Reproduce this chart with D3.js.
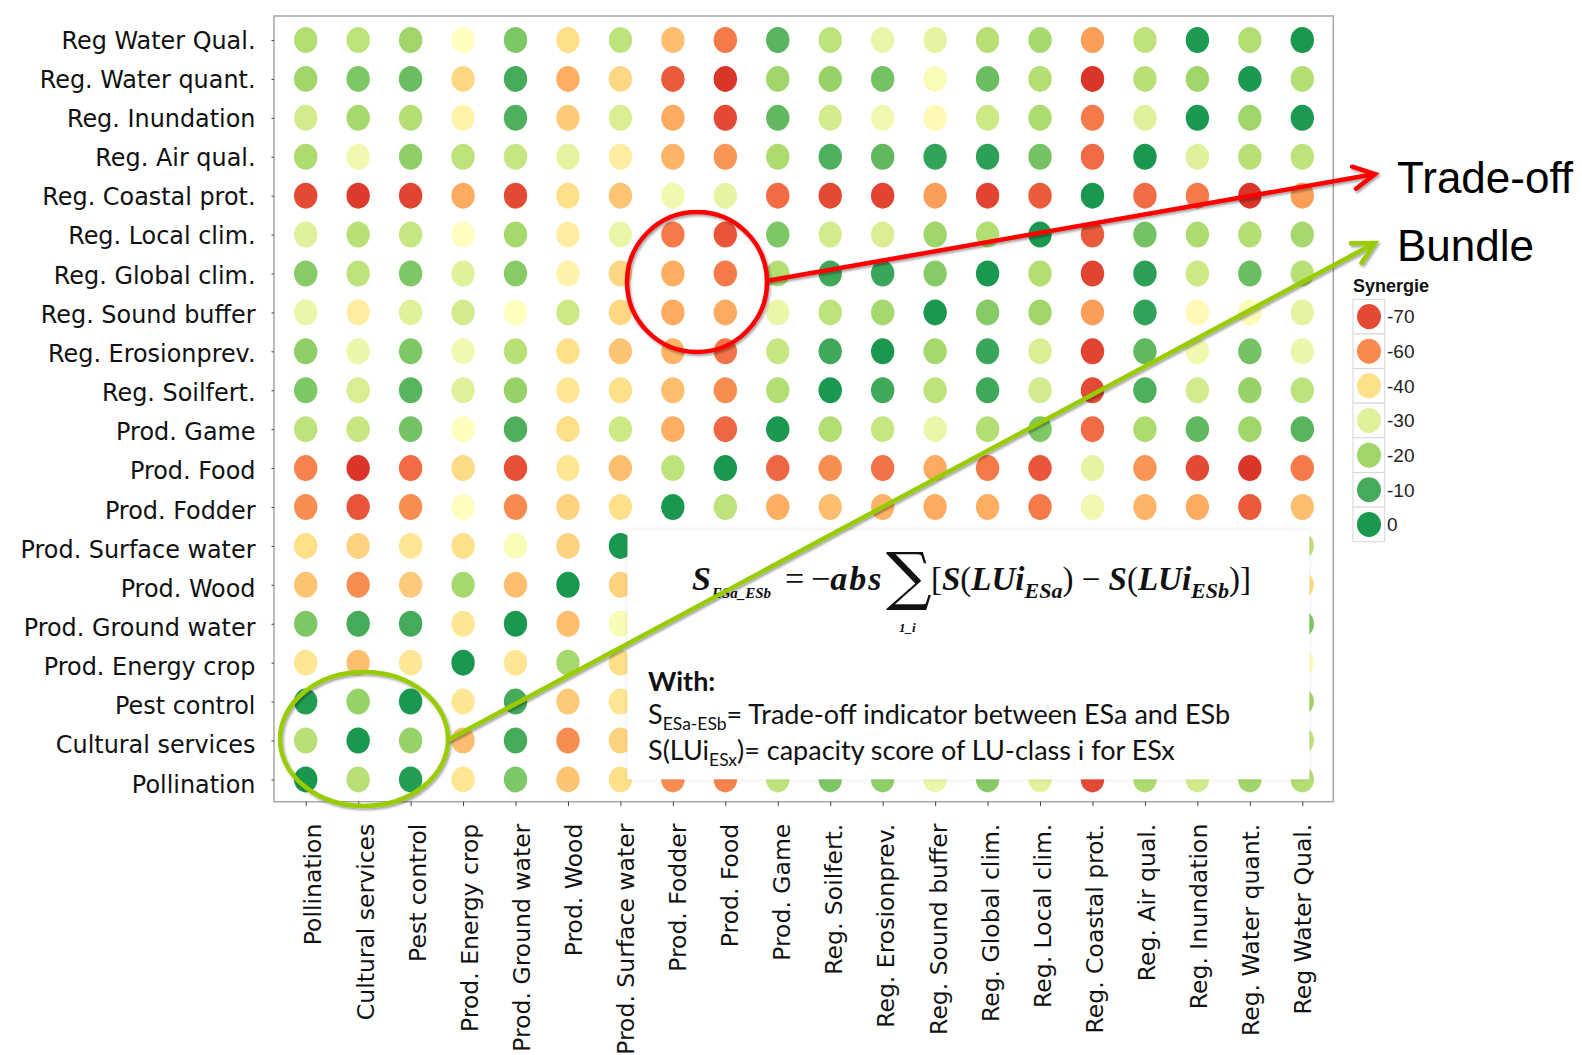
<!DOCTYPE html>
<html><head><meta charset="utf-8">
<script src="https://cdn.jsdelivr.net/npm/d3@7"></script>
<style>
html,body{margin:0;padding:0;background:#fff;}
svg{display:block;}
</style></head><body>
<svg id="chart" width="1582" height="1055"></svg>
<script>
// ---------------- data ----------------
const rowLabels = ["Reg Water Qual.","Reg. Water quant.","Reg. Inundation","Reg. Air qual.","Reg. Coastal prot.",
  "Reg. Local clim.","Reg. Global clim.","Reg. Sound buffer","Reg. Erosionprev.","Reg. Soilfert.",
  "Prod. Game","Prod. Food","Prod. Fodder","Prod. Surface water","Prod. Wood","Prod. Ground water",
  "Prod. Energy crop","Pest control","Cultural services","Pollination"];
const colLabels = ["Pollination","Cultural services","Pest control","Prod. Energy crop","Prod. Ground water",
  "Prod. Wood","Prod. Surface water","Prod. Fodder","Prod. Food","Prod. Game","Reg. Soilfert.",
  "Reg. Erosionprev.","Reg. Sound buffer","Reg. Global clim.","Reg. Local clim.","Reg. Coastal prot.",
  "Reg. Air qual.","Reg. Inundation","Reg. Water quant.","Reg Water Qual."];
// synergy values, one array per row (same order as rowLabels), columns in colLabels order
const values = [
  [-23,-25,-20,-35,-16,-40,-25,-47,-62,-12,-25,-32,-31,-24,-21,-55,-25,-1,-23,0],
  [-20,-16,-14,-42,-10,-50,-42,-67,-74,-20,-19,-15,-34,-14,-23,-74,-24,-20,0,-23],
  [-28,-21,-23,-37,-11,-45,-29,-51,-70,-13,-28,-33,-36,-27,-22,-62,-30,0,-20,-1],
  [-22,-33,-18,-25,-26,-31,-38,-49,-57,-22,-11,-13,-7,-6,-15,-64,0,-30,-24,-25],
  [-70,-73,-71,-51,-70,-40,-46,-33,-31,-64,-70,-71,-55,-71,-67,0,-64,-62,-74,-55],
  [-30,-24,-26,-35,-21,-38,-32,-62,-68,-16,-28,-29,-20,-23,0,-67,-15,-22,-23,-21],
  [-17,-25,-16,-30,-17,-37,-42,-50,-62,-23,-9,-8,-17,0,-23,-71,-6,-27,-14,-24],
  [-32,-38,-30,-28,-35,-27,-42,-51,-51,-32,-25,-21,0,-17,-20,-55,-7,-36,-34,-31],
  [-18,-32,-16,-33,-24,-40,-46,-49,-63,-26,-9,0,-21,-8,-29,-71,-13,-33,-15,-32],
  [-16,-29,-12,-30,-19,-39,-40,-47,-59,-23,0,-9,-25,-9,-28,-70,-11,-28,-19,-25],
  [-25,-26,-15,-35,-11,-40,-27,-50,-65,0,-23,-26,-32,-23,-16,-64,-22,-13,-20,-12],
  [-61,-74,-64,-41,-69,-39,-47,-25,0,-65,-59,-63,-51,-62,-68,-31,-57,-70,-74,-62],
  [-59,-68,-59,-35,-60,-43,-40,0,-25,-50,-47,-49,-51,-50,-62,-33,-49,-51,-67,-47],
  [-40,-43,-39,-40,-34,-43,0,-40,-47,-27,-40,-46,-42,-42,-32,-46,-38,-29,-42,-25],
  [-46,-59,-45,-21,-47,0,-43,-43,-39,-40,-39,-40,-27,-37,-38,-40,-31,-45,-50,-40],
  [-16,-10,-10,-39,0,-47,-34,-60,-69,-11,-19,-24,-35,-17,-21,-70,-26,-11,-10,-16],
  [-39,-47,-39,0,-39,-21,-40,-35,-41,-35,-30,-33,-28,-30,-35,-51,-25,-37,-42,-35],
  [-3,-19,0,-39,-10,-45,-39,-59,-64,-15,-12,-16,-30,-16,-26,-71,-18,-23,-14,-20],
  [-24,0,-19,-47,-10,-59,-43,-68,-74,-26,-29,-32,-38,-25,-24,-73,-33,-21,-16,-25],
  [0,-24,-3,-39,-16,-46,-40,-59,-61,-25,-16,-18,-32,-17,-30,-70,-22,-28,-20,-23]
];
const legendValues = [-70,-60,-40,-30,-20,-10,0];
const legendTitle = "Synergie";

// ---------------- styles ----------------
const colorStops = [-75,-70,-64,-60,-55,-50,-45,-40,-35,-32,-30,-27,-24,-20,-16,-13,-10,-6,0];
const colorRange = ['#d73027','#e34a33','#f16b45','#f8894f','#fa9e5a','#fdae61','#fdca79','#fee08b',
  '#ffffbf','#eaf6a8','#dff19a','#cce986','#b9e077','#a0d669','#7dc765','#61b95f','#45ab5a','#2ca057','#1a9850'];
const color = d3.scaleLinear().domain(colorStops).range(colorRange).interpolate(d3.interpolateRgb).clamp(true);

const svg = d3.select("#chart");
const frame = {left: 274, top: 16, right: 1333.3, bottom: 801.7};

const x = d3.scalePoint().domain(colLabels).range([305.7, 1302.3]);
const y = d3.scalePoint().domain(rowLabels).range([40, 779.4]);
// label placement (labels in the original sit on a slightly different spacing than the dots)
const xLab = d3.scalePoint().domain(colLabels).range([312.7, 1302.5]);
const yLab = d3.scalePoint().domain(rowLabels).range([40.5, 784.5]);

const defs = svg.append("defs");
const sh = defs.append("filter").attr("id","shadow").attr("x","-20%").attr("y","-20%").attr("width","140%").attr("height","140%");
sh.append("feDropShadow").attr("dx",1.5).attr("dy",2).attr("stdDeviation",1.3).attr("flood-color","#000").attr("flood-opacity",0.35);
const bsh = defs.append("filter").attr("id","boxshadow").attr("x","-5%").attr("y","-5%").attr("width","110%").attr("height","110%");
bsh.append("feDropShadow").attr("dx",0).attr("dy",0).attr("stdDeviation",2).attr("flood-color","#000").attr("flood-opacity",0.12);

// frame
svg.append("rect").attr("x",frame.left).attr("y",frame.top)
  .attr("width",frame.right-frame.left).attr("height",frame.bottom-frame.top)
  .attr("fill","#fff").attr("stroke","#a6a6a6").attr("stroke-width",1.5);

// dots
const cells = [];
values.forEach((row,r) => row.forEach((v,c) => cells.push({r, c, v})));
svg.append("g").selectAll("ellipse").data(cells).join("ellipse")
  .attr("cx", d => x(colLabels[d.c]))
  .attr("cy", d => y(rowLabels[d.r]))
  .attr("rx", 11.7).attr("ry", 13)
  .attr("fill", d => color(d.v));

// axes
const axL = svg.append("g").attr("transform",`translate(${frame.left},0)`)
  .call(d3.axisLeft(y).tickSize(2.5).tickPadding(16));
axL.select(".domain").remove();
axL.selectAll(".tick line").attr("stroke","#444");
axL.selectAll(".tick text")
  .attr("font-family","'DejaVu Sans', Verdana, sans-serif").attr("font-size",23.9).attr("fill","#111")
  .attr("y", d => yLab(d) - y(d));

const axB = svg.append("g").attr("transform",`translate(0,${frame.bottom})`)
  .call(d3.axisBottom(x).tickSize(4.5));
axB.select(".domain").remove();
axB.selectAll(".tick line").attr("stroke","#444");
axB.selectAll(".tick text")
  .attr("font-family","'DejaVu Sans', Verdana, sans-serif").attr("font-size",23.5).attr("fill","#111")
  .attr("transform","rotate(-90)").attr("text-anchor","end")
  .attr("x",-22).attr("y", d => xLab(d) - x(d)).attr("dy","0.35em");

// formula box
svg.append("rect").attr("x",627.5).attr("y",530).attr("width",681.8).attr("height",249.3)
  .attr("fill","#fff").attr("filter","url(#boxshadow)");

const serif = "'Liberation Serif', 'Times New Roman', serif";
const f1 = svg.append("text").attr("x",692).attr("y",590).attr("font-family",serif)
  .attr("font-size",34).attr("font-weight","bold").attr("font-style","italic").attr("fill","#111");
f1.append("tspan").text("S");
f1.append("tspan").attr("font-size",15).attr("dx",1).attr("dy",8).text("ESa_ESb");

svg.append("text").attr("x",785).attr("y",590).attr("font-family",serif)
  .attr("font-size",34).attr("fill","#111").text("=");
const f2 = svg.append("text").attr("x",811).attr("y",590).attr("font-family",serif)
  .attr("font-size",34).attr("fill","#111");
f2.append("tspan").text("\u2212");
f2.append("tspan").attr("font-weight","bold").attr("font-style","italic").attr("letter-spacing",2).text("abs");

svg.append("text").attr("x",886).attr("y",598).attr("font-family","'DejaVu Serif', serif")
  .attr("font-size",64).attr("fill","#111").text("\u2211");
svg.append("text").attr("x",899).attr("y",632).attr("font-family",serif)
  .attr("font-size",13).attr("font-weight","bold").attr("font-style","italic").attr("fill","#111").text("1_i");

const f3 = svg.append("text").attr("x",931).attr("y",590).attr("font-family",serif)
  .attr("font-size",33).attr("fill","#111");
const bi = () => f3.append("tspan").attr("font-weight","bold").attr("font-style","italic");
f3.append("tspan").text("[");
bi().text("S");
f3.append("tspan").text("(");
bi().text("LUi");
bi().attr("font-size",22).attr("dy",8).text("ESa");
f3.append("tspan").attr("dy",-8).text(")");
f3.append("tspan").text(" \u2212 ");
bi().text("S");
f3.append("tspan").text("(");
bi().text("LUi");
bi().attr("font-size",22).attr("dy",8).text("ESb");
f3.append("tspan").attr("dy",-8).text(")]");

const sans = "Lato, 'Open Sans', sans-serif";
svg.append("text").attr("x",648).attr("y",691).attr("font-family",sans).attr("font-size",27)
  .attr("font-weight","bold").attr("fill","#111").text("With:");
const l2 = svg.append("text").attr("x",648).attr("y",724).attr("font-family",sans).attr("font-size",27).attr("fill","#111");
l2.append("tspan").text("S");
l2.append("tspan").attr("font-size",17.5).attr("dy",6).text("ESa-ESb");
l2.append("tspan").attr("dy",-6).text("= Trade-off indicator between ESa and ESb");
const l3 = svg.append("text").attr("x",648).attr("y",760).attr("font-family",sans).attr("font-size",27).attr("fill","#111");
l3.append("tspan").text("S(LUi");
l3.append("tspan").attr("font-size",17.5).attr("dy",6).text("ESx");
l3.append("tspan").attr("dy",-6).text(")= capacity score of LU-class i for ESx");

// annotations
function arrow(col, x0, y0, x1, y1) {
  const g = svg.append("g").attr("filter","url(#shadow)");
  g.append("line").attr("x1",x0).attr("y1",y0).attr("x2",x1).attr("y2",y1)
    .attr("stroke",col).attr("stroke-width",4.5);
  const a = Math.atan2(y1-y0, x1-x0), L = 24, w = Math.PI/6.5;
  const p = d3.path();
  p.moveTo(x1 - L*Math.cos(a-w), y1 - L*Math.sin(a-w));
  p.lineTo(x1, y1);
  p.lineTo(x1 - L*Math.cos(a+w), y1 - L*Math.sin(a+w));
  g.append("path").attr("d",p.toString()).attr("fill","none").attr("stroke",col)
    .attr("stroke-width",4.5).attr("stroke-linejoin","miter").attr("stroke-linecap","round");
}
svg.append("circle").attr("cx",697).attr("cy",282).attr("r",70)
  .attr("fill","none").attr("stroke","#ff0000").attr("stroke-width",4.5).attr("filter","url(#shadow)");
arrow("#ff0000", 766, 281, 1375, 174);
svg.append("ellipse").attr("cx",364).attr("cy",739).attr("rx",84).attr("ry",67)
  .attr("fill","none").attr("stroke","#99cc00").attr("stroke-width",4.5).attr("filter","url(#shadow)");
arrow("#99cc00", 448, 740, 1375, 243);

svg.append("text").attr("x",1397).attr("y",193).attr("font-family","'Liberation Sans', Arial, sans-serif")
  .attr("font-size",44).attr("fill","#000").text("Trade-off");
svg.append("text").attr("x",1397).attr("y",261).attr("font-family","'Liberation Sans', Arial, sans-serif")
  .attr("font-size",44).attr("fill","#000").text("Bundle");

// legend
const narrow = "'Liberation Sans Narrow', 'Arial Narrow', 'Liberation Sans', sans-serif";
const lg = svg.append("g");
lg.append("text").attr("x",1353).attr("y",292).attr("font-family",narrow)
  .attr("font-size",18).attr("font-weight","bold").attr("fill","#111").text(legendTitle);
const ly = d3.scaleBand().domain(legendValues).range([299.3, 541.7]);
const items = lg.selectAll("g.item").data(legendValues).join("g")
  .attr("transform", d => `translate(1353,${ly(d)})`);
items.append("rect").attr("width",31.7).attr("height",ly.bandwidth())
  .attr("fill","#fff").attr("stroke","#d6d6d6").attr("stroke-width",1);
items.append("ellipse").attr("cx",16).attr("cy",ly.bandwidth()/2).attr("rx",12).attr("ry",12.5)
  .attr("fill", d => color(d));
items.append("text").attr("x",34).attr("y",ly.bandwidth()/2).attr("dy","0.36em")
  .attr("font-family",narrow).attr("font-size",19).attr("fill","#222").text(d => d);
</script>
</body></html>
